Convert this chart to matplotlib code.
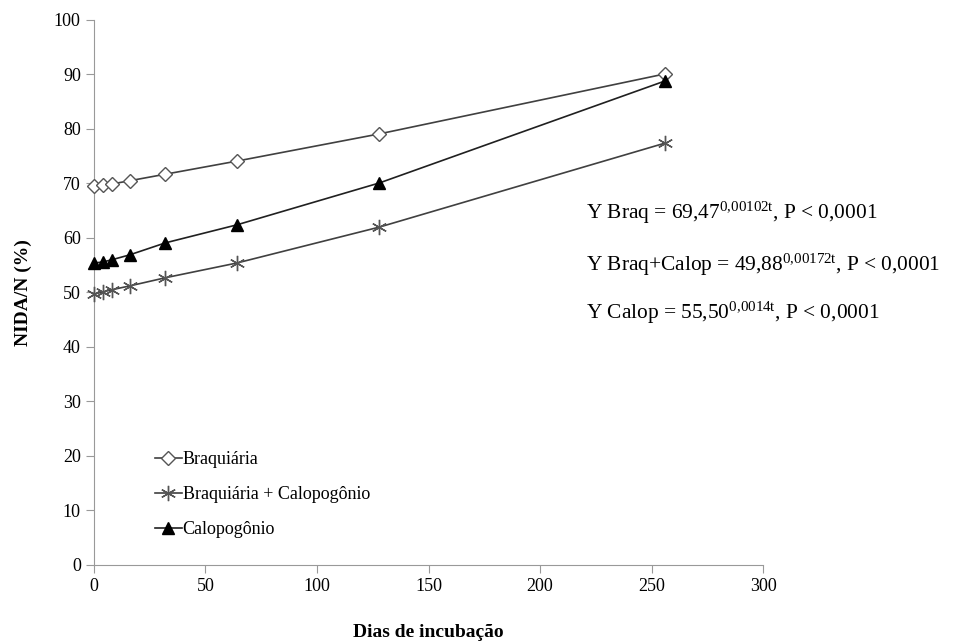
import matplotlib
matplotlib.use("Agg")
import matplotlib.pyplot as plt

plt.rcParams['font.family'] = ['Liberation Serif', 'DejaVu Serif']
plt.rcParams['mathtext.fontset'] = 'custom'
plt.rcParams['mathtext.rm'] = 'Liberation Serif'
plt.rcParams['mathtext.it'] = 'Liberation Serif'

dias = [0, 4, 8, 16, 32, 64, 128, 256]
braq = [69.5, 69.7, 69.9, 70.5, 71.7, 74.1, 79.1, 90.1]
braq_calop = [49.7, 50.1, 50.5, 51.2, 52.7, 55.4, 62.0, 77.4]
calop = [55.4, 55.6, 56.0, 56.9, 59.1, 62.4, 70.1, 88.8]

labels = ['Braquiária', 'Braquiária + Calopogônio', 'Calopogônio']

fig = plt.figure(figsize=(9.55, 6.44), dpi=100)
ax = fig.add_axes([0.0984, 0.1227, 0.7006, 0.8463])

ax.plot(dias, braq, color='#404040', lw=1.2, marker='D', ms=7, mfc='white',
        mec='#555555', mew=1.0, label=labels[0], clip_on=False, zorder=3)
ax.plot(dias, braq_calop, color='#404040', lw=1.2, marker=(6, 2, 0), ms=11,
        mec='#555555', mew=1.0, label=labels[1], clip_on=False, zorder=3)
ax.plot(dias, calop, color='#202020', lw=1.2, marker='^', ms=9, mfc='black',
        mec='black', label=labels[2], clip_on=False, zorder=3)

ax.set_xlim(0, 300)
ax.set_ylim(0, 100)
ax.set_xticks(range(0, 301, 50))
ax.set_yticks(range(0, 101, 10))
for s in ['top', 'right']:
    ax.spines[s].set_visible(False)
for s in ['left', 'bottom']:
    ax.spines[s].set_color('#999999')
ax.tick_params(axis='both', colors='#999999', labelcolor='black', labelsize=13,
               length=6, direction='out')
ax.set_xlabel('Dias de incubação', fontsize=14, fontweight='bold', labelpad=21)
ax.set_ylabel('NIDA/N (%)', fontsize=14, fontweight='bold', labelpad=16)

leg = ax.legend(loc='upper left', bbox_to_anchor=(0.077, 0.225), frameon=False,
                fontsize=13, handlelength=1.5, handletextpad=0.05,
                labelspacing=1.0, borderpad=0)

eqs = [
    ('Y Braq = 69,47', r'$^{\mathregular{0{,}00102t}}$', ', P < 0,0001', 64.6),
    ('Y Braq+Calop = 49,88', r'$^{\mathregular{0{,}00172t}}$', ', P < 0,0001', 55.0),
    ('Y Calop = 55,50', r'$^{\mathregular{0{,}0014t}}$', ', P < 0,0001', 46.2),
]
for a, b, c, y in eqs:
    ax.text(220.5, y, a + b + c, fontsize=15.4, va='center', ha='left')

fig.savefig('out.png', dpi=100)
